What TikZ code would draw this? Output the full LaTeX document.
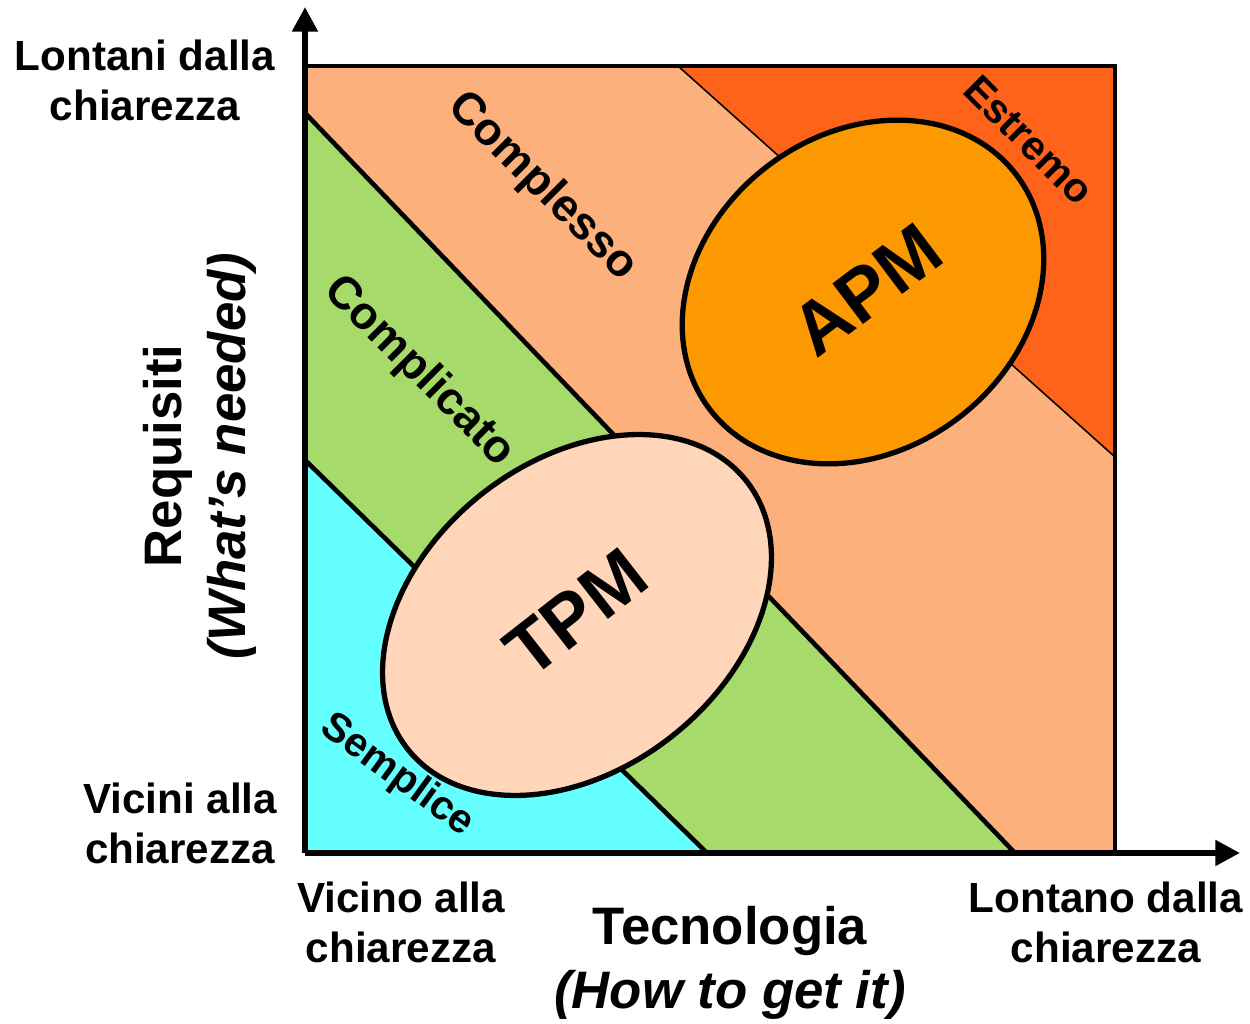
\documentclass[tikz,border=0pt]{standalone}
\usepackage{fontspec}
\setmainfont{Liberation Sans}
\usetikzlibrary{arrows.meta}
\definecolor{cyanfill}{RGB}{102,255,255}
\definecolor{greenfill}{RGB}{166,218,106}
\definecolor{peach}{RGB}{252,176,124}
\definecolor{redorange}{RGB}{255,99,26}
\definecolor{apmfill}{RGB}{252,152,0}
\definecolor{tpmfill}{RGB}{255,214,186}
\begin{document}
\begin{tikzpicture}[x=0.01cm,y=0.01cm,
  axis/.style={line width=1.7pt,-{Triangle[length=7pt,width=7pt]}},
  frame/.style={line width=1.4pt},
  border/.style={line width=1.3pt},
  thinborder/.style={line width=0.45pt},
  blob/.style={line width=1.5pt},
  axlbl/.style={font=\bfseries\fontsize{12}{14.2}\selectfont, align=center, inner sep=0pt},
  titlelbl/.style={font=\bfseries\fontsize{15}{18}\selectfont, align=center, inner sep=0pt},
  zonelbl/.style={font=\bfseries\fontsize{13}{15}\selectfont, inner sep=0pt},
  smallzone/.style={font=\bfseries\fontsize{11.6}{13}\selectfont, inner sep=0pt},
  pmlbl/.style={font=\bfseries\fontsize{21}{24}\selectfont, inner sep=0pt}]
\useasboundingbox (0,0) rectangle (1250,1024);

% corner coordinates
\coordinate (O) at (305,171);
\coordinate (TL) at (305,958);
\coordinate (TR) at (1115,958);
\coordinate (BR) at (1115,171);
\coordinate (ytip) at (305,1017);
\coordinate (xtip) at (1240,171);
% region boundary points
\coordinate (g1) at (305,911);
\coordinate (g2) at (1015,171);
\coordinate (c1) at (305,564);
\coordinate (c2) at (707,171);
\coordinate (r1) at (678,958);
\coordinate (r2) at (1115,567);
\coordinate (apmc) at (863,732);
\coordinate (tpmc) at (577,409);

% fills
\fill[peach] (O) rectangle (TR);
\fill[greenfill] (g1) -- (g2) -- (O) -- cycle;
\fill[cyanfill] (c1) -- (c2) -- (O) -- cycle;
\fill[redorange] (r1) -- (TR) -- (r2) -- cycle;

% boundaries
\draw[border] (g1) -- (g2);
\draw[border] (c1) -- (c2);
\draw[thinborder] (r1) -- (r2);

% ellipses
\draw[blob, fill=apmfill, rotate around={37.6:(apmc)}] (apmc) ellipse [x radius=193, y radius=158];
\draw[blob, fill=tpmfill, rotate around={38.4:(tpmc)}] (tpmc) ellipse [x radius=216, y radius=154];

% frame and axes
\draw[frame] (TL) -- (TR) -- (BR);
\draw[axis] (O) -- (ytip);
\draw[axis] (O) -- (xtip);

% zone labels
\node[zonelbl, rotate=-45] (complesso) at (542,837) {Complesso};
\node[zonelbl, rotate=-45] (complicato) at (419,652) {Complicato};
\node[smallzone, rotate=-36] (semplice) at (397,248) {Semplice};
\node[smallzone, rotate=-45] (estremo) at (1029,884) {Estremo};
\node[pmlbl, rotate=37] (apm) at (867,734) {APM};
\node[pmlbl, rotate=38] (tpm) at (576,411) {TPM};

% axis labels
\node[axlbl] (lontani) at (145,944) {Lontani dalla\\chiarezza};
\node[axlbl] (vicini) at (180,201) {Vicini alla\\chiarezza};
\node[axlbl] (vicino) at (401,102) {Vicino alla\\chiarezza};
\node[axlbl] (lontano) at (1106,102) {Lontano dalla\\chiarezza};
\node[titlelbl] (tecnologia) at (730,61) {Tecnologia\\\textit{(How to get it)}};
\node[titlelbl, rotate=90] (requisiti) at (200,568) {Requisiti\\\textit{(What’s needed)}};
\end{tikzpicture}
\end{document}
